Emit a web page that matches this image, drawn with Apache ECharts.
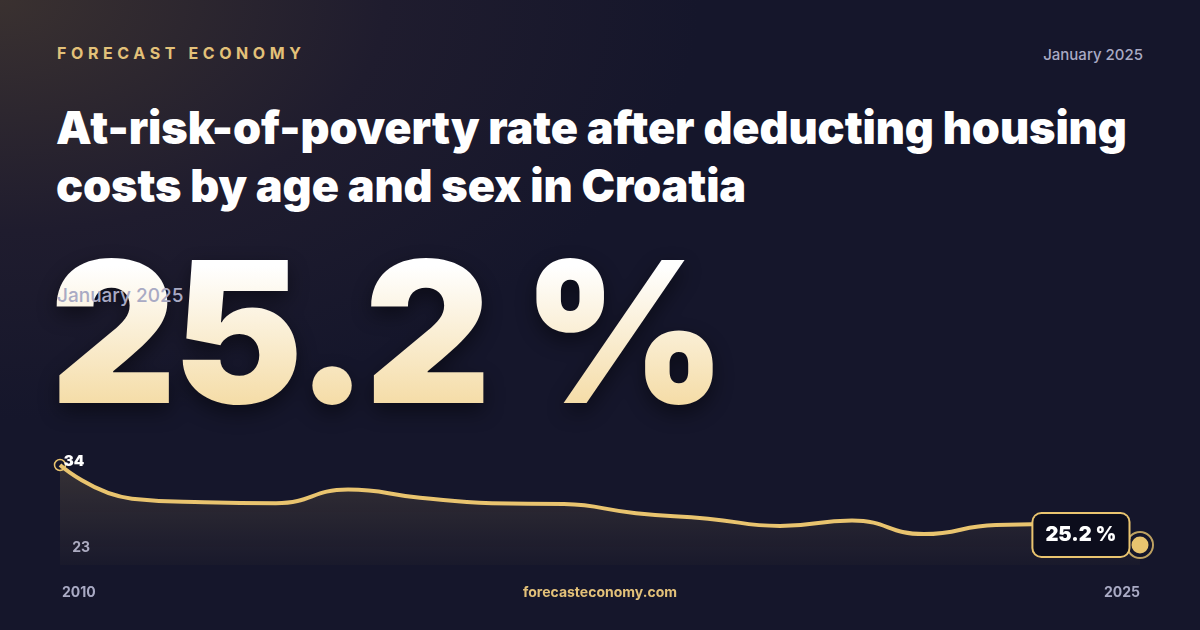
<!DOCTYPE html>
<html><head><meta charset="utf-8">
<script src="https://cdn.jsdelivr.net/npm/echarts@6/dist/echarts.min.js"></script>
<style>
html,body{margin:0;padding:0;width:1200px;height:630px;overflow:hidden;font-family:Inter,"Noto Sans",sans-serif;}
body{background:radial-gradient(ellipse 700px 420px at 0px 0px,#3a3130 0%,#1f1c2e 55%,#15162b 100%);background-color:#15162b;position:relative;}
.brand{position:absolute;left:57px;top:43px;color:#e3c179;font-size:16px;font-weight:700;letter-spacing:4.6px;}
.date{position:absolute;right:57px;top:45px;color:#a9aac4;font-size:15px;font-weight:500;}
.title{position:absolute;left:56px;top:99px;color:#fff;font-size:45px;font-weight:900;line-height:58px;letter-spacing:-0.1px;}
.big{position:absolute;left:50px;top:222px;font-size:196px;font-weight:900;letter-spacing:-4px;line-height:220px;background:linear-gradient(180deg,#ffffff 20%,#f2d38f 100%);-webkit-background-clip:text;background-clip:text;color:transparent;filter:drop-shadow(0 8px 10px rgba(0,0,0,0.45));}
.sub{position:absolute;left:57px;top:284px;color:#a9aac4;font-size:19px;font-weight:500;}
.y0{position:absolute;left:62px;top:583px;color:#a9aac4;font-size:14px;font-weight:700;}
.y1{position:absolute;right:60px;top:583px;color:#a9aac4;font-size:14px;font-weight:700;}
.site{position:absolute;left:0;width:1200px;text-align:center;top:583px;color:#e3c179;font-size:14px;font-weight:700;}
#chart{position:absolute;left:0;top:0;width:1200px;height:630px;}
</style></head>
<body>
<div class="brand">FORECAST ECONOMY</div>
<div class="date">January 2025</div>
<div class="title">At-risk-of-poverty rate after deducting housing<br>costs by age and sex in Croatia</div>
<div class="big">25.2 %</div>
<div class="sub">January 2025</div>
<div id="chart"></div>
<div class="y0">2010</div>
<div class="site">forecasteconomy.com</div>
<div class="y1">2025</div>
<script>
const years = ['2010','2011','2012','2013','2014','2015','2016','2017','2018','2019','2020','2021','2022','2023','2024','2025'];
const values = [34, 30.3, 29.9, 29.8, 31.3, 30.4, 29.8, 29.7, 28.7, 28.1, 27.3, 27.9, 26.4, 27.4, 27.5, 25.2];
const axisMin = 23, axisMax = 34;

const gold = '#e9c46f';
const chart = echarts.init(document.getElementById('chart'));
const last = values.length - 1;
chart.setOption({
  animation: false,
  grid: {left: 60, right: 60, top: 465, height: 100},
  xAxis: {type: 'category', data: years, boundaryGap: false, show: false},
  yAxis: {type: 'value', min: axisMin, max: axisMax, splitLine: {show: false}, axisLine: {show: false}, axisTick: {show: false},
    interval: axisMax - axisMin, position: 'left', offset: -30,
    axisLabel: {color: '#a9aac4', fontSize: 14, fontWeight: 'bold', fontFamily: 'Inter',
      formatter: v => v === axisMin ? String(axisMin) : '', margin: 0, verticalAlign: 'bottom', padding: [0,0,10,0]}},
  series: [{
    type: 'line', data: values, smooth: 0.5, symbol: 'none',
    lineStyle: {color: gold, width: 4},
    areaStyle: {color: new echarts.graphic.LinearGradient(0,0,0,1,[{offset:0,color:'rgba(233,196,111,0.22)'},{offset:1,color:'rgba(233,196,111,0.03)'}])},
    markPoint: {
      data: [
        {coord: [0, values[0]], symbol: 'circle', symbolSize: 11, itemStyle: {color: 'rgba(0,0,0,0)', borderColor: gold, borderWidth: 1.5},
         label: {show: true, formatter: String(values[0]), color: '#fff', fontSize: 15, fontWeight: 900, fontFamily: 'Inter', offset: [14, -4]}},
        {coord: [last, values[last]], symbol: 'circle', symbolSize: 20, itemStyle: {color: gold, borderColor: '#15162b', borderWidth: 3},
         label: {show: true, formatter: values[last].toFixed(1) + ' %', position: 'left', distance: 0, offset: [0, -10], color: '#fff', fontSize: 20, fontWeight: 900, fontFamily: 'Inter',
           backgroundColor: '#0c0d1c', borderColor: gold, borderWidth: 2, borderRadius: 8, padding: [11, 12, 11, 12]}}
      ]
    }
  }, {
    type: 'scatter', data: [[last, values[last]]], symbolSize: 26, silent: true,
    itemStyle: {color: 'rgba(0,0,0,0)', borderColor: gold, borderWidth: 2}
  }]
});
</script>
</body></html>
